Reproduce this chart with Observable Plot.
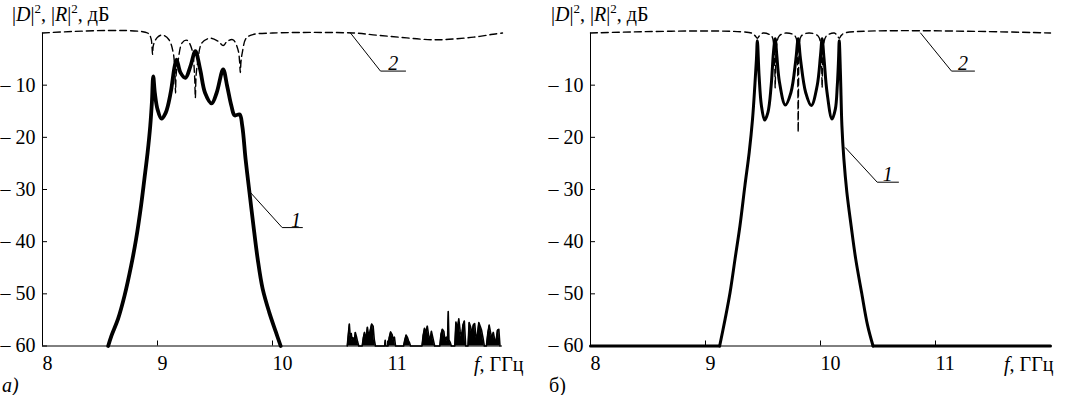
<!DOCTYPE html>
<html>
<head>
<meta charset="utf-8">
<script src="https://cdn.jsdelivr.net/npm/d3@7"></script>
<script src="https://cdn.jsdelivr.net/npm/@observablehq/plot@0.6"></script>
<style>
  html, body { margin: 0; padding: 0; background: #fff; }
  #wrap { position: relative; width: 1072px; height: 395px; overflow: hidden; }
  #wrap svg { position: absolute; top: 0; max-width: none !important; }
  #wrap svg text { font-family: 'Liberation Serif', 'DejaVu Serif', serif !important; }
</style>
</head>
<body>
<div id="wrap"></div>
<script>
// ---------- tick labels ----------
const fTicks = [8, 9, 10, 11];
const dbTicks = [-10, -20, -30, -40, -50, -60];

// ---------- panel а) curve 1 (solid) ----------
const aC1F  = [8.571, 8.6, 8.657, 8.714, 8.771, 8.814, 8.857, 8.886, 8.914, 8.937, 8.951, 8.963, 8.977, 9.0, 9.034, 9.071, 9.114, 9.149, 9.166, 9.2, 9.243, 9.286, 9.329, 9.371, 9.414, 9.471, 9.514, 9.571, 9.606, 9.643, 9.671, 9.714, 9.737, 9.766, 9.8, 9.834, 9.871, 9.914, 9.971, 10.029, 10.071];
const aC1Db = [-60, -58, -54.8, -50.3, -44.6, -39.5, -33.1, -28, -22.9, -17.8, -13.4, -8.3, -11.5, -14.6, -16.4, -15.3, -11.5, -6.4, -5.1, -7.6, -8.6, -6.4, -3.5, -7, -11.5, -13.5, -11.5, -7, -10.2, -14, -15.8, -15.6, -17.8, -24.2, -30.6, -36.9, -43.3, -49, -53.5, -57.3, -60];

// ---------- panel а) curve 1 noise floor ----------
const aNoiseF  = [10.650, 10.660, 10.668, 10.676, 10.685, 10.692, 10.700, 10.710, 10.720, 10.730, 10.740, 10.750,
                  10.780, 10.790, 10.800, 10.812, 10.825, 10.838, 10.850, 10.862, 10.875, 10.885, 10.895,
                  10.975, 10.980, 10.985,
                  11.005, 11.015, 11.027, 11.040, 11.050, 11.060, 11.070,
                  11.140, 11.150, 11.162, 11.172, 11.183, 11.192, 11.200,
                  11.300, 11.310, 11.322, 11.334, 11.346, 11.358, 11.370, 11.382, 11.394, 11.410,
                  11.455, 11.465, 11.477, 11.490, 11.500, 11.512, 11.522, 11.528, 11.534, 11.545, 11.555,
                  11.585, 11.595, 11.607, 11.620, 11.632, 11.644, 11.656, 11.668, 11.680,
                  11.700, 11.710, 11.722, 11.734, 11.746, 11.758, 11.770, 11.782, 11.794, 11.806, 11.818, 11.830, 11.842,
                  11.860, 11.872, 11.884, 11.896, 11.908, 11.920, 11.932, 11.944, 11.956, 11.968, 11.978];
const aNoiseDb = [-60, -57.6, -55.8, -58.2, -57.6, -59.0, -58.4, -59.3, -57.4, -58.2, -59.2, -60,
                  -60, -58.4, -57.4, -58.8, -56.4, -58.3, -57.0, -55.8, -56.2, -58.8, -60,
                  -60, -58.9, -60,
                  -60, -58.4, -57.3, -57.8, -58.9, -58.3, -60,
                  -60, -58.9, -57.9, -58.3, -59.0, -59.4, -60,
                  -60, -58.0, -56.6, -57.4, -56.2, -58.0, -58.9, -57.2, -58.4, -60,
                  -60, -57.8, -56.8, -57.2, -59.0, -58.3, -59.2, -53.4, -58.8, -59.3, -60,
                  -60, -55.4, -56.8, -54.8, -57.2, -58.3, -56.0, -55.2, -60,
                  -60, -55.5, -56.3, -57.6, -56.0, -55.7, -58.5, -57.8, -55.5, -56.2, -57.0, -58.4, -60,
                  -60, -57.6, -56.0, -57.4, -58.5, -57.4, -58.8, -59.1, -57.0, -56.8, -60];

// ---------- panel а) curve 2 (dashed) ----------
const aC2F  = [8, 8.914, 8.943, 8.952, 8.957, 8.962, 8.971, 9.0, 9.043, 9.1, 9.137, 9.152, 9.157, 9.162, 9.177, 9.214, 9.257, 9.3, 9.322, 9.329, 9.336, 9.349, 9.386, 9.457, 9.529, 9.571, 9.606, 9.657, 9.7, 9.714, 9.72, 9.726, 9.737, 9.771, 9.829, 10.0, 10.7, 10.9, 11.1, 11.3, 11.45, 11.6, 11.75, 11.9, 12];
const aC2Db = [0, 0, -1, -2.6, -4.1, -2.6, -1.9, -0.8, -0.4, -1.3, -3.8, -8, -11.5, -8, -5.7, -1.9, -1.4, -3.2, -8, -12.4, -8, -5.7, -1.9, -1, -1.6, -2.4, -1.6, -1.3, -3.2, -5.5, -7.6, -5.5, -3.8, -1, -0.3, 0, 0, -0.4, -0.8, -1.2, -1.3, -1.1, -0.8, -0.3, 0];

// ---------- panel б) curve 1 (solid): band part and clipped floor ----------
const bC1F  = [9.123, 9.171, 9.214, 9.257, 9.3, 9.343, 9.38, 9.409, 9.429, 9.443, 9.451, 9.466, 9.486, 9.514, 9.543, 9.571, 9.591, 9.606, 9.62, 9.643, 9.694, 9.743, 9.786, 9.806, 9.826, 9.871, 9.92, 9.971, 10.0, 10.014, 10.031, 10.057, 10.1, 10.129, 10.146, 10.157, 10.163, 10.174, 10.186, 10.203, 10.229, 10.266, 10.306, 10.357, 10.409, 10.457];
const bC1Db = [-60, -54.8, -49.7, -43.3, -36.9, -29.2, -22.9, -16.5, -10.1, -5, -1.5, -8.2, -13.9, -16.7, -15.2, -10.1, -3.7, -1.1, -4.3, -9.4, -13.8, -11.4, -5, -1.1, -5, -11.4, -13.9, -10.1, -4.3, -1.1, -5, -11.4, -16.5, -14.6, -10.1, -5, -1.5, -8.2, -17.7, -24.1, -30.5, -36.9, -43.3, -49.7, -56, -60];
const bFloorF  = [8, 9.123, 10.457, 12];
const bFloorDb = [-60, -60, -60, -60];
const bFloorSeg = ["left", "left", "right", "right"];

// ---------- panel б) curve 2 (dashed) ----------
const bC2F  = [8, 9.40, 9.43, 9.451, 9.47, 9.50, 9.575, 9.595, 9.602, 9.606, 9.610, 9.617, 9.64, 9.70, 9.78, 9.797, 9.803, 9.806, 9.809, 9.815, 9.832, 9.90, 9.98, 10.003, 10.01, 10.014, 10.018, 10.025, 10.05, 10.12, 10.145, 10.163, 10.18, 10.21, 12];
const bC2Db = [0, 0, -0.5, -1.0, -0.5, 0, -0.6, -2.5, -6, -10.5, -6, -2.5, -0.6, 0, -0.6, -3.5, -10, -19, -10, -3.5, -0.6, 0, -0.6, -2.5, -6, -10.5, -6, -2.5, -0.6, 0, -0.5, -1.0, -0.5, 0, 0];

// ---------- leader lines for curve numbers ----------
const aLead1F = [9.809, 10.084, 10.26],  aLead1Db = [-30.6, -37.3, -37.3];
const aLead2F = [10.678, 10.939, 11.157], aLead2Db = [0, -7.3, -7.3];
const bLead1F = [10.217, 10.493, 10.678], bLead1Db = [-22.0, -28.6, -28.6];
const bLead2F = [10.87, 11.139, 11.339],  bLead2Db = [0, -7.3, -7.3];
const curveNames = ["1", "2"];
const aNameF = [10.205, 11.05], aNameDb = [-37.3, -7.3];
const bNameF = [10.585, 11.24], bNameDb = [-28.6, -7.3];

const zip = (xs, ys) => xs.map((x, i) => ({x, y: ys[i]}));
const FONT = "'Liberation Serif', 'DejaVu Serif', serif";
const FS = 20;

function panel(o) {
  const c1 = zip(o.c1F, o.c1Db);
  const c2 = zip(o.c2F, o.c2Db);
  const marks = [
    Plot.ruleY([-60], {strokeWidth: 1}),
    Plot.ruleX([8], {strokeWidth: 1}),
    Plot.axisY(dbTicks, {tickSize: -5, tickPadding: 12, tickFormat: d => "– " + (-d), label: null, fontSize: FS}),
    Plot.axisX(fTicks, {tickSize: -5, tickFormat: () => "", label: null}),
    Plot.text(fTicks, {x: d => d, frameAnchor: "bottom", lineAnchor: "top", textAnchor: "start", dy: 10, text: d => String(d), fontSize: FS})
  ];
  if (o.noiseF) {
    const n = zip(o.noiseF, o.noiseDb);
    marks.push(Plot.areaY(n, {x: "x", y1: -60, y2: "y", fill: "black"}));
    marks.push(Plot.line(n, {x: "x", y: "y", stroke: "black", strokeWidth: 1.6}));
  }
  if (o.floorF) {
    const fl = o.floorF.map((x, i) => ({x, y: o.floorDb[i], z: o.floorSeg[i]}));
    marks.push(Plot.line(fl, {x: "x", y: "y", z: "z", stroke: "black", strokeWidth: o.w1}));
  }
  marks.push(
    Plot.line(c1, {x: "x", y: "y", stroke: "black", strokeWidth: o.w1, curve: "catmull-rom", strokeLinejoin: "round"}),
    Plot.line(c2, {x: "x", y: "y", stroke: "black", strokeWidth: 1.4, strokeDasharray: "7,4", curve: "catmull-rom"}),
    Plot.line(zip(o.l1F, o.l1Db), {x: "x", y: "y", stroke: "black", strokeWidth: 1}),
    Plot.line(zip(o.l2F, o.l2Db), {x: "x", y: "y", stroke: "black", strokeWidth: 1}),
    Plot.text(curveNames, {x: (d, i) => o.nF[i], y: (d, i) => o.nDb[i], text: d => d, lineAnchor: "bottom", dy: -1, fontSize: FS, fontStyle: "italic"})
  );
  const svg = Plot.plot({
    width: 536, height: 395,
    marginLeft: o.ml, marginRight: o.mr, marginTop: 32.5, marginBottom: 49.5,
    style: {fontFamily: FONT, fontSize: FS + "px", background: "white", color: "black", overflow: "visible"},
    x: {domain: [8, 12]},
    y: {domain: [-60, 0]},
    marks
  });
  const s = d3.select(svg);
  const g = s.append("g").attr("text-anchor", "start").attr("font-family", FONT).attr("font-size", FS).attr("fill", "black");
  // y-axis title
  const t = g.append("text").attr("x", o.titleX).attr("y", 21);
  t.append("tspan").text("|");
  t.append("tspan").attr("font-style", "italic").text("D");
  t.append("tspan").text("|");
  t.append("tspan").attr("font-size", 13).attr("dy", -8).text("2");
  t.append("tspan").attr("dy", 8).text(", |");
  t.append("tspan").attr("font-style", "italic").text("R");
  t.append("tspan").text("|");
  t.append("tspan").attr("font-size", 13).attr("dy", -8).text("2");
  t.append("tspan").attr("dy", 8).text(", дБ");
  // x-axis title
  const fx = g.append("text").attr("x", o.fX).attr("y", 371);
  fx.append("tspan").attr("font-style", "italic").text("f");
  fx.append("tspan").text(", ГГц");
  // panel letter
  g.append("text").attr("x", o.letterX).attr("y", 392)
    .attr("font-style", o.letterItalic ? "italic" : null).text(o.letter);
  svg.style.left = o.left + "px";
  return svg;
}

const wrap = document.getElementById("wrap");
wrap.append(panel({
  left: 0, ml: 42, mr: 34, w1: 3.8,
  c1F: aC1F, c1Db: aC1Db, c2F: aC2F, c2Db: aC2Db,
  noiseF: aNoiseF, noiseDb: aNoiseDb,
  l1F: aLead1F, l1Db: aLead1Db, l2F: aLead2F, l2Db: aLead2Db,
  nF: aNameF, nDb: aNameDb,
  titleX: 12, fX: 474, letterX: 2, letter: "а)", letterItalic: true
}));
wrap.append(panel({
  left: 536, ml: 54, mr: 22, w1: 3,
  c1F: bC1F, c1Db: bC1Db, c2F: bC2F, c2Db: bC2Db,
  floorF: bFloorF, floorDb: bFloorDb, floorSeg: bFloorSeg,
  l1F: bLead1F, l1Db: bLead1Db, l2F: bLead2F, l2Db: bLead2Db,
  nF: bNameF, nDb: bNameDb,
  titleX: 15, fX: 468, letterX: 13, letter: "б)", letterItalic: false
}));
</script>
</body>
</html>
